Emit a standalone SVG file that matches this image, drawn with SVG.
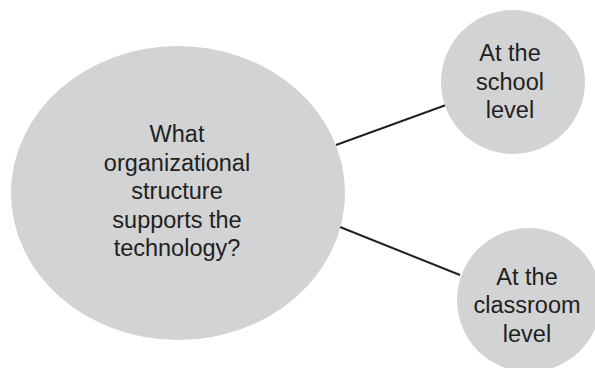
<svg xmlns="http://www.w3.org/2000/svg" width="595" height="368" viewBox="0 0 595 368">
<style>
.node{fill:#d1d3d4;stroke:none}
.lbl{font-family:"Liberation Sans",Arial,sans-serif;font-size:23.5px;fill:#231f20;text-anchor:middle}
.conn{stroke:#231f20;stroke-width:2;fill:none}
</style>
<rect width="595" height="368" fill="#ffffff"/>
<g id="connectors">
<line class="conn" x1="336" y1="145" x2="446" y2="105"/>
<line class="conn" x1="340" y1="227" x2="460" y2="275"/>
</g>
<g id="main">
<ellipse class="node" cx="178" cy="193" rx="167" ry="147"/>
<text class="lbl" x="177" y="142">What</text>
<text class="lbl" x="177" y="170.5">organizational</text>
<text class="lbl" x="177" y="199">structure</text>
<text class="lbl" x="177" y="227.5">supports the</text>
<text class="lbl" x="177" y="256">technology?</text>
</g>
<g id="school">
<circle class="node" cx="513" cy="82" r="72"/>
<text class="lbl" x="510" y="61">At the</text>
<text class="lbl" x="510" y="90">school</text>
<text class="lbl" x="510" y="118">level</text>
</g>
<g id="classroom">
<circle class="node" cx="529" cy="300" r="72"/>
<text class="lbl" x="527" y="285">At the</text>
<text class="lbl" x="527" y="313">classroom</text>
<text class="lbl" x="527" y="342">level</text>
</g>
</svg>
